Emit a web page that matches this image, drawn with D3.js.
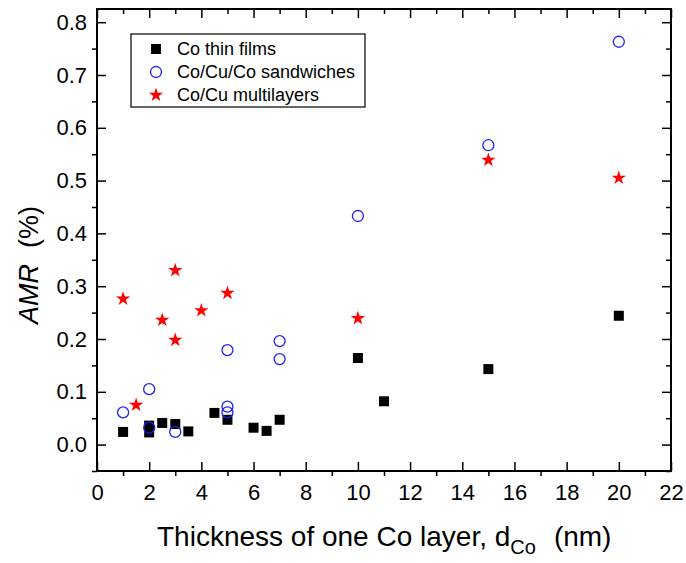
<!DOCTYPE html>
<html>
<head>
<meta charset="utf-8">
<style>
body { margin: 0; background: #fff; }
svg text { font-family: "Liberation Sans", Arial, sans-serif; fill: #000; }
.axis .domain { display: none; }
.axis line { stroke: #000; stroke-width: 1.5px; }
</style>
</head>
<body>
<svg width="686" height="563" id="chart"></svg>
<script src="https://d3js.org/d3.v7.min.js"></script>
<script>
// Co thin films
var filmX = [1, 2, 2, 2.5, 3, 3.5, 4.5, 5, 6, 6.5, 7, 10, 11, 15, 20];
var filmY = [0.024, 0.023, 0.036, 0.041, 0.039, 0.025, 0.060, 0.047, 0.032, 0.026, 0.047, 0.164, 0.082, 0.143, 0.244];
// Co/Cu/Co sandwiches
var sandX = [1, 2, 2, 3, 5, 5, 5, 7, 7, 10, 15, 20];
var sandY = [0.061, 0.105, 0.032, 0.024, 0.179, 0.072, 0.061, 0.196, 0.162, 0.433, 0.567, 0.763];
// Co/Cu multilayers
var multiX = [1, 1.5, 2.5, 3, 3, 4, 5, 10, 15, 20];
var multiY = [0.276, 0.075, 0.236, 0.330, 0.198, 0.254, 0.287, 0.239, 0.539, 0.505];

var seriesNames = ["Co thin films", "Co/Cu/Co sandwiches", "Co/Cu multilayers"];
var xTicks = d3.range(0, 23, 2);
var xMinor = d3.range(1, 22, 2);
var yTicks = [0, 0.1, 0.2, 0.3, 0.4, 0.5, 0.6, 0.7, 0.8];
var yMinor = [-0.05, 0.05, 0.15, 0.25, 0.35, 0.45, 0.55, 0.65, 0.75];

var svg = d3.select("#chart");
var pLeft = 97, pRight = 671, pTop = 9, pBottom = 471;

var x = d3.scaleLinear().domain([0, 22]).range([pLeft, pRight]);
var y = d3.scaleLinear().domain([-0.05, 0.825]).range([pBottom, pTop]);

// bottom axis
svg.append("g").attr("class", "axis").attr("transform", "translate(0," + pBottom + ")")
  .call(d3.axisBottom(x).tickValues(xTicks).tickSize(-9).tickPadding(13).tickFormat(d3.format("d")))
  .selectAll("text").style("font-size", "22px");
svg.append("g").attr("class", "axis").attr("transform", "translate(0," + pBottom + ")")
  .call(d3.axisBottom(x).tickValues(xMinor).tickSize(5).tickFormat(""));
// top axis
svg.append("g").attr("class", "axis").attr("transform", "translate(0," + pTop + ")")
  .call(d3.axisTop(x).tickValues(xTicks).tickSize(-9).tickFormat(""));
svg.append("g").attr("class", "axis").attr("transform", "translate(0," + pTop + ")")
  .call(d3.axisTop(x).tickValues(xMinor).tickSize(-5).tickFormat(""));
// left axis
svg.append("g").attr("class", "axis").attr("transform", "translate(" + pLeft + ",0)")
  .call(d3.axisLeft(y).tickValues(yTicks).tickSize(-9).tickPadding(10).tickFormat(d3.format(".1f")))
  .selectAll("text").style("font-size", "22px");
svg.append("g").attr("class", "axis").attr("transform", "translate(" + pLeft + ",0)")
  .call(d3.axisLeft(y).tickValues(yMinor).tickSize(5).tickFormat(""));
// right axis
svg.append("g").attr("class", "axis").attr("transform", "translate(" + pRight + ",0)")
  .call(d3.axisRight(y).tickValues(yTicks).tickSize(-9).tickFormat(""));
svg.append("g").attr("class", "axis").attr("transform", "translate(" + pRight + ",0)")
  .call(d3.axisRight(y).tickValues(yMinor).tickSize(-5).tickFormat(""));

// frame
svg.append("rect")
  .attr("x", pLeft).attr("y", pTop)
  .attr("width", pRight - pLeft).attr("height", pBottom - pTop)
  .attr("fill", "none").attr("stroke", "#000").attr("stroke-width", 2);

var squareSym = d3.symbol().type(d3.symbolSquare).size(100);
var starSym = d3.symbol().type(d3.symbolStar).size(64);

function pts(xs, ys) {
  return xs.map(function(d, i) { return {x: d, y: ys[i]}; });
}

svg.append("g").selectAll("path")
  .data(pts(filmX, filmY))
  .enter().append("path")
  .attr("d", squareSym)
  .attr("transform", function(d) { return "translate(" + x(d.x) + "," + y(d.y) + ")"; })
  .attr("fill", "#000");

svg.append("g").selectAll("circle")
  .data(pts(sandX, sandY))
  .enter().append("circle")
  .attr("cx", function(d) { return x(d.x); })
  .attr("cy", function(d) { return y(d.y); })
  .attr("r", 5.5)
  .attr("fill", "none")
  .attr("stroke", "#1f1fff")
  .attr("stroke-width", 1.3);

svg.append("g").selectAll("path")
  .data(pts(multiX, multiY))
  .enter().append("path")
  .attr("d", starSym)
  .attr("transform", function(d) { return "translate(" + x(d.x) + "," + y(d.y) + ")"; })
  .attr("fill", "#ff0000");

// legend
var lg = svg.append("g");
lg.append("rect").attr("x", 131).attr("y", 34).attr("width", 234).attr("height", 73)
  .attr("fill", "#fff").attr("stroke", "#000").attr("stroke-width", 1.2);
var rowY = [49, 72, 95];
lg.append("path").attr("d", squareSym).attr("transform", "translate(156," + rowY[0] + ")").attr("fill", "#000");
lg.append("circle").attr("cx", 156).attr("cy", rowY[1]).attr("r", 5.5)
  .attr("fill", "none").attr("stroke", "#1f1fff").attr("stroke-width", 1.3);
lg.append("path").attr("d", starSym).attr("transform", "translate(156," + rowY[2] + ")").attr("fill", "#ff0000");
lg.selectAll("text.lab")
  .data(seriesNames)
  .enter().append("text")
  .attr("class", "lab")
  .attr("x", 177)
  .attr("y", function(d, i) { return rowY[i] + 6; })
  .style("font-size", "18px")
  .text(function(d) { return d; });

// axis titles
var xt = svg.append("text").attr("x", 157).attr("y", 546).style("font-size", "28px");
xt.append("tspan").text("Thickness of one Co layer, d");
xt.append("tspan").attr("dy", 8).style("font-size", "20px").text("Co");
xt.append("tspan").attr("dy", -8).attr("dx", 18).text("(nm)");

var yt = svg.append("text")
  .attr("transform", "translate(38,265) rotate(-90)")
  .attr("text-anchor", "middle")
  .style("font-size", "27px");
yt.append("tspan").style("font-style", "italic").text("AMR");
yt.append("tspan").attr("dx", 16).text("(%)");
</script>
</body>
</html>
